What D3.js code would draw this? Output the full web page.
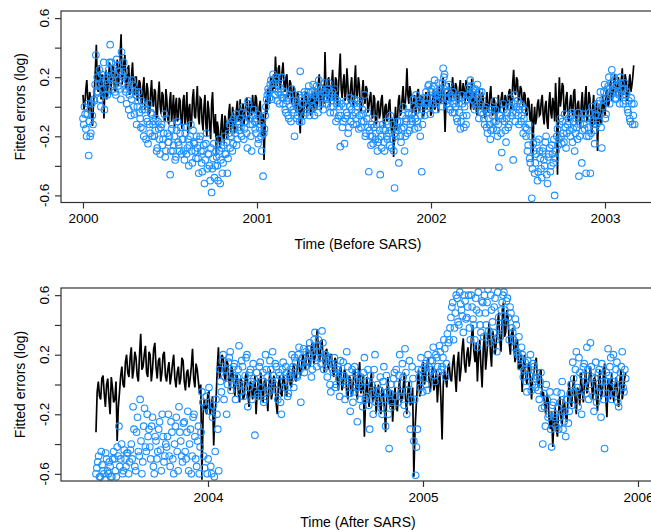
<!DOCTYPE html>
<html>
<head>
<meta charset="utf-8">
<script src="https://cdn.jsdelivr.net/npm/d3@7/dist/d3.min.js"></script>
<style>
  body { margin: 0; background: #fff; }
  svg text { font-family: "Liberation Sans", Arial, Helvetica, sans-serif; fill: #000; }
</style>
</head>
<body>
<svg id="chart" width="651" height="531"></svg>
<script>
// Before SARS. Fitted curve: "A" values every 4 days from 2000.0,
// "B" values sit halfway between (2 days later).
var topStart = 2000.0;
var topLineA = [
  0.08, 0.02, 0.18, -0.04, 0.06, -0.13, 0.12, 0.42, 0.1, 0.2,
  0.22, -0.08, 0.25, 0.12, 0.3, 0.18, 0.26, 0.1, 0.32, 0.2,
  0.49, 0.22, 0.35, 0.15, 0.28, 0.12, 0.3, 0.08, 0.2, 0.1,
  0.16, 0.02, 0.2, 0.05, 0.12, -0.04, 0.18, 0.0, 0.1, -0.06,
  0.17, -0.05, 0.08, -0.1, 0.05, -0.12, 0.1, -0.02, -0.14, 0.06,
  -0.08, 0.04, -0.15, 0.08, -0.05, -0.18, 0.02, -0.1, 0.12, -0.08,
  0.14, -0.12, 0.05, -0.16, 0.08, -0.2, -0.02, -0.22, 0.1, -0.18,
  -0.33, -0.15, -0.28, -0.05, -0.25, -0.1, -0.2, 0.02, -0.15, -0.05,
  -0.12, 0.04, -0.08, -0.16, 0.02, -0.06, 0.06, -0.1, 0.0, 0.08,
  -0.04, 0.06, -0.12, 0.04, -0.2, -0.36, 0.05, 0.12, 0.02, 0.18,
  0.22, 0.34, 0.14, 0.28, 0.18, 0.3, 0.1, 0.22, 0.08, 0.16,
  0.05, 0.12, -0.04, 0.08, -0.18, 0.06, -0.02, 0.1, 0.0, 0.04,
  0.06, -0.04, 0.12, 0.02, 0.22, -0.02, 0.15, 0.37, 0.05, 0.2,
  0.08, 0.25, 0.04, 0.18, 0.1, 0.36, 0.06, 0.22, 0.1, 0.15,
  0.05, 0.2, 0.0, 0.28, 0.08, 0.15, -0.04, 0.18, 0.02, 0.12,
  0.0, 0.1, -0.08, 0.06, -0.12, 0.04, -0.05, 0.08, -0.14, 0.02,
  -0.06, 0.05, -0.18, -0.34, 0.0, -0.1, 0.08, -0.04, 0.14, 0.0,
  0.26, 0.02, 0.1, -0.04, 0.08, -0.02, 0.12, 0.0, 0.06, -0.05,
  0.1, 0.02, 0.08, -0.04, 0.12, 0.0, 0.06, 0.14, 0.02, 0.2,
  -0.17, 0.1, 0.16, 0.04, 0.2, 0.08, 0.14, 0.02, 0.18, 0.06,
  0.12, 0.18, 0.04, 0.1, 0.19, -0.02, 0.08, -0.06, 0.12, 0.0,
  0.06, -0.08, 0.1, -0.02, 0.14, -0.06, 0.04, -0.1, 0.08, 0.0,
  0.1, -0.04, 0.06, 0.02, 0.12, 0.0, 0.25, 0.08, 0.18, 0.05,
  0.12, 0.0, 0.08, -0.06, 0.04, -0.1, -0.37, 0.0, -0.08, 0.05,
  -0.05, 0.08, -0.12, 0.04, -0.15, 0.1, -0.08, 0.02, 0.16, -0.46,
  0.2, 0.06, 0.14, -0.04, 0.1, -0.1, 0.08, -0.06, 0.12, -0.12,
  0.04, -0.15, 0.1, -0.08, 0.14, -0.04, 0.06, -0.18, 0.08, -0.1,
  -0.3, 0.02, -0.12, 0.08, -0.06, 0.12, 0.02, 0.18, 0.06, 0.22,
  0.1, 0.2, 0.04, 0.26, 0.12, 0.18, 0.06, 0.22, 0.14, 0.28
];
var topLineB = [
  -0.02, 0.12, 0.05, 0.1, -0.08, 0.02, 0.25, 0.15, 0.28, 0.05,
  0.1, 0.15, 0.05, 0.22, 0.08, 0.28, 0.12, 0.24, 0.14, 0.36,
  0.15, 0.3, 0.12, 0.26, 0.08, 0.22, 0.14, 0.2, 0.04, 0.18,
  0.04, 0.14, -0.02, 0.16, -0.05, 0.1, 0.02, 0.12, -0.08, 0.08,
  0.0, 0.1, -0.06, 0.12, -0.08, 0.04, -0.1, 0.08, 0.0, -0.1,
  0.06, -0.1, 0.04, -0.12, 0.1, -0.02, -0.15, 0.06, -0.06, 0.04,
  -0.06, 0.06, -0.1, 0.0, -0.12, 0.04, -0.15, 0.02, -0.1, -0.05,
  -0.1, -0.24, -0.12, -0.2, -0.06, -0.22, -0.04, -0.16, 0.0, -0.18,
  -0.02, -0.1, 0.05, -0.04, -0.12, 0.04, -0.08, 0.04, -0.06, -0.02,
  0.08, -0.06, 0.0, -0.1, -0.05, -0.15, -0.05, 0.06, 0.2, 0.1,
  0.12, 0.2, 0.26, 0.12, 0.24, 0.15, 0.2, 0.06, 0.18, 0.02,
  0.14, -0.02, 0.1, -0.06, 0.02, -0.08, 0.08, -0.04, 0.08, -0.06,
  0.1, 0.06, -0.02, 0.16, 0.04, 0.1, 0.02, 0.12, 0.18, 0.0,
  0.16, 0.06, 0.2, 0.0, 0.24, 0.12, 0.16, 0.04, 0.26, 0.02,
  0.14, 0.04, 0.16, 0.06, 0.2, 0.0, 0.1, 0.06, 0.14, -0.04,
  0.06, -0.04, 0.08, -0.1, 0.02, -0.08, 0.05, -0.06, 0.0, -0.1,
  0.02, -0.1, -0.08, -0.12, -0.16, 0.04, -0.06, 0.06, -0.02, 0.1,
  0.08, 0.14, -0.02, 0.06, -0.06, 0.1, -0.04, 0.08, -0.06, 0.04,
  -0.02, 0.1, -0.06, 0.06, -0.02, 0.1, -0.04, 0.04, 0.12, 0.04,
  0.02, 0.04, 0.08, 0.14, 0.06, 0.16, 0.04, 0.12, 0.08, 0.16,
  0.02, 0.08, 0.14, -0.02, 0.06, 0.1, -0.04, 0.06, -0.02, 0.1,
  -0.04, 0.04, -0.04, 0.08, 0.0, 0.06, -0.06, 0.02, -0.04, 0.06,
  0.0, 0.08, -0.02, 0.1, -0.02, 0.16, 0.1, 0.2, 0.04, 0.14,
  0.04, 0.1, -0.04, 0.06, -0.08, 0.02, -0.1, -0.12, 0.02, -0.06,
  0.04, -0.06, 0.0, -0.1, 0.02, -0.04, 0.06, -0.1, 0.0, 0.02,
  0.0, 0.16, -0.06, 0.06, -0.08, 0.02, -0.02, 0.1, -0.04, 0.02,
  -0.06, 0.02, -0.04, 0.06, -0.1, 0.1, -0.08, 0.0, -0.12, 0.04,
  -0.08, -0.1, 0.04, -0.04, 0.1, 0.0, 0.14, 0.04, 0.16, 0.08,
  0.16, 0.06, 0.18, 0.08, 0.22, 0.04, 0.16, 0.1, 0.2
];

// Before SARS. Observed errors: "A" every 3 days from 2000.0, "B" 1.5 days later.
var topPointsA = [
  -0.08, 0.0, -0.15, -0.05, -0.33, -0.2, 0.02, -0.12, 0.04, 0.35,
  0.2, 0.15, 0.05, 0.22, 0.12, -0.02, 0.18, 0.08, 0.25, 0.42,
  0.3, 0.15, 0.22, 0.08, 0.28, 0.18, 0.12, 0.37, 0.2, 0.24,
  0.1, 0.18, -0.02, 0.12, 0.05, 0.15, -0.05, 0.08, 0.0, 0.1,
  -0.08, 0.04, -0.15, -0.02, -0.22, -0.1, 0.02, -0.18, -0.05, -0.12,
  -0.2, -0.08, -0.28, -0.15, -0.32, -0.12, -0.22, -0.05, -0.3, -0.18,
  -0.24, -0.46, -0.15, -0.3, -0.2, -0.34, -0.1, -0.26, -0.18, -0.32,
  -0.22, -0.36, -0.14, -0.28, -0.4, -0.2, -0.3, -0.16, -0.25, -0.35,
  -0.28, -0.45, -0.2, -0.38, -0.3, -0.52, -0.25, -0.42, -0.32, -0.5,
  -0.58, -0.35, -0.48, -0.3, -0.4, -0.22, -0.52, -0.28, -0.38, -0.2,
  -0.32, -0.45, -0.18, -0.28, -0.1, -0.25, -0.15, -0.05, -0.22, -0.12,
  -0.08, -0.2, 0.0, -0.15, -0.05, -0.28, 0.02, -0.12, -0.3, -0.06,
  -0.1, -0.18, -0.05, -0.22, -0.12, -0.3, -0.47, -0.15, 0.0, 0.08,
  0.1, 0.15, 0.05, 0.22, 0.12, 0.18, 0.04, 0.14, 0.08, 0.2,
  0.02, 0.1, -0.04, 0.06, -0.08, 0.0, 0.12, -0.02, -0.2, 0.04,
  -0.06, 0.08, 0.24, -0.1, 0.02, 0.1, -0.04, 0.06, 0.14, -0.02,
  0.05, 0.15, -0.06, 0.1, 0.02, 0.18, 0.08, 0.12, -0.02, 0.16,
  0.1, 0.05, 0.16, -0.04, 0.08, 0.0, 0.12, -0.1, 0.04, -0.06,
  -0.27, 0.02, -0.1, -0.25, 0.04, -0.06, -0.14, 0.06, -0.02, -0.12,
  0.05, -0.08, 0.0, -0.15, 0.02, -0.1, -0.05, 0.08, -0.18, -0.04,
  -0.44, -0.2, -0.12, -0.25, -0.08, -0.18, -0.3, -0.22, -0.46, -0.28,
  -0.15, -0.3, -0.1, -0.22, -0.18, -0.06, -0.28, -0.12, -0.55, -0.2,
  -0.1, -0.38, -0.2, -0.15, 0.0, -0.3, -0.08, -0.18, -0.05, -0.12,
  -0.05, 0.05, -0.15, 0.08, -0.1, 0.02, -0.2, -0.44, 0.0, -0.06,
  0.1, 0.02, 0.15, -0.05, 0.12, 0.06, 0.18, -0.02, 0.08, 0.04,
  0.12, 0.0, 0.26, 0.22, 0.1, 0.05, 0.15, -0.02, 0.06, 0.1,
  -0.04, 0.04, -0.1, 0.02, -0.15, 0.08, -0.06, 0.0, -0.12, 0.05,
  0.13, 0.18, 0.05, 0.12, -0.02, 0.08, 0.15, -0.08, 0.02, 0.1,
  -0.05, -0.12, 0.0, -0.18, -0.08, -0.22, -0.02, -0.15, 0.04, -0.1,
  -0.2, -0.41, -0.06, -0.31, 0.02, -0.1, -0.24, -0.04, -0.12, 0.06,
  0.0, -0.36, 0.08, -0.04, 0.04, -0.12, 0.02, -0.06, -0.18, -0.02,
  -0.2, -0.3, -0.12, -0.38, -0.62, -0.25, -0.45, -0.32, -0.5, -0.22,
  -0.35, -0.48, -0.28, -0.4, -0.2, -0.52, -0.32, -0.44, -0.26, -0.38,
  -0.6, -0.3, -0.15, -0.22, -0.08, -0.25, -0.18, -0.05, -0.28, -0.12,
  -0.1, -0.2, -0.04, -0.15, -0.3, -0.08, -0.22, -0.47, -0.12, -0.38,
  -0.05, -0.15, -0.45, -0.08, -0.2, -0.45, 0.0, -0.12, -0.25, -0.05,
  0.02, -0.1, 0.1, -0.28, 0.05, 0.15, -0.05, 0.12, 0.2, 0.08,
  0.25, 0.1, 0.18, 0.05, 0.15, 0.08, 0.2, 0.12, 0.02, 0.16,
  0.08, -0.02, 0.04, -0.1, 0.02, -0.06, -0.12
];
var topPointsB = [
  -0.12, -0.05, -0.2, 0.02, -0.1, -0.18, -0.06, 0.05, 0.15, 0.1,
  0.1, 0.25, 0.0, 0.16, 0.3, 0.08, 0.2, 0.12, 0.3, 0.2,
  0.18, 0.26, 0.1, 0.32, 0.14, 0.24, 0.05, 0.22, 0.3, 0.12,
  0.02, 0.14, 0.08, -0.06, 0.18, 0.0, 0.1, -0.12, 0.04, -0.04,
  -0.14, -0.02, -0.2, 0.0, -0.08, -0.25, -0.12, -0.04, -0.2, -0.1,
  -0.16, -0.3, -0.1, -0.22, -0.14, -0.26, -0.18, -0.34, -0.08, -0.24,
  -0.2, -0.3, -0.12, -0.26, -0.36, -0.16, -0.24, -0.3, -0.14, -0.22,
  -0.3, -0.18, -0.32, -0.22, -0.26, -0.12, -0.38, -0.24, -0.3, -0.2,
  -0.35, -0.22, -0.3, -0.44, -0.26, -0.36, -0.18, -0.32, -0.4, -0.28,
  -0.42, -0.25, -0.4, -0.34, -0.5, -0.3, -0.36, -0.45, -0.26, -0.32,
  -0.24, -0.35, -0.12, -0.2, -0.3, -0.08, -0.18, -0.26, -0.1, -0.16,
  -0.14, -0.04, -0.22, -0.1, -0.18, 0.04, -0.08, -0.2, -0.12, -0.02,
  -0.15, -0.08, -0.25, -0.14, -0.2, -0.1, -0.18, -0.06, 0.05, 0.12,
  0.06, 0.18, 0.12, 0.16, 0.08, 0.2, 0.1, 0.02, 0.12, 0.06,
  0.06, -0.02, 0.04, -0.06, 0.08, -0.1, 0.04, -0.04, 0.02, -0.08,
  0.0, -0.1, 0.06, 0.02, -0.06, 0.08, 0.0, 0.1, -0.06, 0.04,
  0.1, 0.0, 0.08, 0.14, -0.04, 0.06, 0.12, 0.02, 0.1, 0.06,
  0.02, 0.12, 0.06, 0.0, 0.1, -0.04, 0.06, 0.02, -0.08, 0.0,
  -0.06, -0.14, 0.0, -0.08, -0.04, -0.18, 0.0, -0.1, -0.06, 0.02,
  -0.04, -0.12, 0.04, -0.06, -0.14, -0.02, -0.1, -0.2, -0.08, -0.14,
  -0.16, -0.26, -0.2, -0.14, -0.22, -0.12, -0.24, -0.16, -0.2, -0.12,
  -0.24, -0.16, -0.2, -0.12, -0.26, -0.16, -0.22, -0.3, -0.18, -0.14,
  -0.16, -0.1, -0.24, -0.06, -0.14, -0.2, -0.1, -0.04, -0.16, -0.08,
  -0.1, 0.0, -0.08, -0.02, -0.14, 0.04, -0.06, -0.12, 0.06, 0.02,
  0.06, 0.14, 0.0, 0.1, 0.02, 0.14, 0.08, 0.04, 0.16, 0.1,
  0.06, 0.16, 0.2, 0.14, 0.02, 0.1, 0.0, 0.08, -0.04, 0.02,
  0.0, -0.08, 0.06, -0.04, -0.1, 0.02, -0.14, 0.04, -0.06, 0.08,
  0.08, 0.14, 0.1, 0.04, 0.12, 0.0, 0.06, 0.1, -0.04, 0.04,
  -0.08, -0.02, -0.14, -0.04, -0.12, -0.16, -0.06, -0.1, -0.02, -0.16,
  -0.12, -0.06, -0.18, -0.08, -0.02, -0.16, -0.08, -0.14, 0.0, -0.06,
  -0.04, 0.02, -0.1, 0.0, -0.06, -0.02, -0.1, 0.0, -0.08, -0.14,
  -0.15, -0.26, -0.35, -0.2, -0.42, -0.3, -0.38, -0.24, -0.44, -0.3,
  -0.42, -0.3, -0.36, -0.24, -0.46, -0.34, -0.28, -0.4, -0.32, -0.22,
  -0.35, -0.2, -0.26, -0.12, -0.2, -0.1, -0.24, -0.14, -0.18, -0.08,
  -0.16, -0.06, -0.24, -0.1, -0.18, -0.14, -0.04, -0.2, -0.08, -0.16,
  -0.12, -0.08, -0.2, -0.14, -0.04, -0.18, -0.1, -0.16, -0.06, -0.12,
  -0.06, 0.04, -0.14, 0.0, 0.1, -0.08, 0.06, 0.14, 0.02, 0.16,
  0.12, 0.2, 0.06, 0.14, 0.1, 0.02, 0.16, 0.08, 0.12, 0.04,
  0.1, -0.04, -0.08, 0.06, -0.12, 0.02
];

// After SARS. Fitted curve: "A" every 4 days from mid 2003, "B" 2 days later.
var botStart = 2003.479;
var botLineA = [
  -0.32, 0.02, -0.1, 0.06, -0.15, 0.04, -0.2, -0.02, -0.1, -0.38,
  -0.05, 0.12, -0.02, 0.2, 0.05, 0.25, 0.1, 0.18, 0.02, 0.34,
  0.12, 0.26, 0.05, 0.2, 0.1, 0.28, 0.04, 0.18, 0.08, 0.22,
  0.02, 0.15, 0.06, 0.2, -0.02, 0.12, 0.04, 0.16, -0.04, 0.1,
  0.04, 0.24, -0.02, 0.1, -0.06, -0.64, -0.1, -0.2, -0.05, -0.15,
  -0.41, -0.1, 0.25, 0.1, 0.18, 0.02, 0.14, -0.04, 0.1, -0.08,
  0.06, -0.12, 0.02, -0.08, 0.08, -0.15, 0.0, -0.05, -0.2, 0.04,
  0.08, -0.12, 0.04, -0.18, 0.1, -0.05, 0.02, -0.2, 0.06, -0.08,
  0.04, -0.08, 0.1, -0.02, 0.14, 0.02, 0.18, 0.06, 0.2, 0.1,
  0.22, 0.12, 0.28, 0.18, 0.37, 0.15, 0.3, 0.08, 0.24, 0.1,
  0.2, 0.05, 0.16, -0.04, 0.12, 0.0, 0.08, -0.1, 0.04, -0.06,
  0.1, -0.1, 0.15, -0.02, -0.35, 0.05, -0.15, 0.08, -0.08, -0.2,
  0.0, -0.2, -0.05, -0.32, 0.05, -0.15, -0.25, -0.02, -0.18, 0.04,
  -0.1, 0.08, -0.2, 0.02, -0.12, -0.62, -0.15, 0.1, -0.05, 0.15,
  0.05, 0.18, -0.05, 0.12, 0.0, -0.12, 0.08, -0.37, 0.1, -0.02,
  0.14, 0.02, 0.2, -0.05, 0.22, 0.1, 0.31, 0.08, 0.25, 0.18,
  0.4, 0.15, 0.02, 0.3, -0.02, 0.35, 0.2, 0.42, 0.12, 0.3,
  0.28, 0.48, 0.22, 0.55, 0.35, 0.45, 0.2, 0.38, 0.15, 0.3,
  0.12, -0.05, 0.2, 0.0, 0.15, -0.1, 0.08, 0.18, -0.02, 0.1,
  -0.05, -0.2, -0.1, -0.3, -0.42, -0.15, -0.35, -0.08, -0.28, -0.12,
  -0.25, 0.02, -0.15, 0.06, -0.2, -0.05, 0.08, -0.12, 0.1, -0.02,
  0.12, -0.1, 0.05, -0.18, 0.1, -0.05, 0.14, -0.22, 0.02, 0.08,
  -0.12, 0.05, -0.15, 0.1, -0.05, 0.08
];
var botLineB = [
  -0.05, -0.08, 0.04, -0.06, 0.0, -0.1, 0.05, -0.12, 0.02, -0.15,
  0.06, 0.0, 0.15, 0.08, 0.18, 0.04, 0.22, 0.06, 0.2, 0.1,
  0.2, 0.08, 0.22, 0.02, 0.24, 0.12, 0.16, 0.02, 0.2, 0.06,
  0.1, 0.0, 0.14, 0.04, 0.08, 0.0, 0.18, 0.02, 0.08, -0.02,
  0.12, 0.04, 0.14, 0.02, 0.0, -0.2, -0.16, -0.06, -0.2, -0.08,
  -0.2, 0.1, 0.04, 0.2, 0.06, 0.16, 0.02, 0.12, 0.0, 0.06,
  -0.06, 0.04, -0.1, 0.06, -0.06, 0.02, -0.1, 0.06, -0.04, -0.1,
  -0.04, 0.02, -0.08, 0.02, -0.1, 0.06, -0.12, 0.0, -0.06, 0.06,
  -0.06, 0.06, 0.0, 0.1, 0.04, 0.12, 0.08, 0.16, 0.12, 0.26,
  0.14, 0.26, 0.14, 0.3, 0.2, 0.28, 0.16, 0.22, 0.12, 0.2,
  0.1, 0.18, 0.02, 0.1, -0.04, 0.1, -0.06, 0.06, -0.08, 0.08,
  -0.04, 0.08, -0.06, 0.06, -0.1, -0.06, 0.02, -0.12, 0.0, -0.06,
  -0.12, -0.02, -0.16, -0.06, -0.1, -0.04, -0.1, -0.14, -0.04, -0.12,
  -0.02, -0.1, -0.04, -0.14, -0.02, -0.3, 0.0, -0.08, 0.06, 0.0,
  0.12, 0.02, 0.06, -0.04, 0.1, 0.02, -0.1, 0.0, 0.04, 0.12,
  0.04, 0.14, 0.06, 0.14, 0.02, 0.24, 0.14, 0.2, 0.12, 0.32,
  0.22, 0.28, 0.2, 0.12, 0.24, 0.1, 0.32, 0.22, 0.36, 0.2,
  0.4, 0.3, 0.42, 0.32, 0.5, 0.28, 0.34, 0.24, 0.3, 0.1,
  0.2, 0.1, 0.06, 0.12, 0.02, 0.06, 0.14, 0.02, 0.08, -0.08,
  -0.12, -0.06, -0.24, -0.18, -0.25, -0.3, -0.18, -0.22, -0.1, -0.22,
  -0.08, -0.12, -0.02, -0.1, -0.02, -0.14, -0.04, 0.02, -0.06, 0.06,
  0.0, 0.04, -0.08, 0.0, -0.1, 0.06, -0.08, 0.04, -0.1, -0.06,
  0.0, -0.08, 0.02, -0.1, 0.04
];

// After SARS. Observed errors: "A" every 3 days from mid 2003, "B" 1.5 days later.
var botPointsA = [
  -0.6, -0.52, -0.62, -0.45, -0.58, -0.64, -0.5, -0.6, -0.55, -0.62,
  -0.45, -0.58, -0.42, -0.28, -0.5, -0.6, -0.44, -0.55, -0.46, -0.52,
  -0.4, -0.15, -0.55, -0.32, -0.45, -0.1, -0.6, -0.28, -0.42, -0.2,
  -0.3, -0.5, -0.22, -0.6, -0.38, -0.45, -0.25, -0.58, -0.35, -0.48,
  -0.42, -0.2, -0.55, -0.32, -0.6, -0.28, -0.45, -0.15, -0.38, -0.52,
  -0.25, -0.5, -0.18, -0.4, -0.6, -0.22, -0.35, -0.55, -0.28, -0.42,
  -0.05, -0.48, -0.15, -0.6, -0.02, -0.55, -0.22, -0.62, -0.1, -0.3,
  0.1, -0.05, 0.2, 0.05, -0.2, 0.15, 0.22, 0.0, 0.12, -0.1,
  0.05, 0.26, -0.05, 0.12, 0.0, 0.18, -0.15, 0.08, 0.02, 0.14,
  -0.34, 0.08, -0.08, 0.15, 0.02, -0.12, 0.2, 0.05, -0.05, 0.1,
  0.22, 0.0, 0.12, -0.1, 0.06, -0.2, 0.15, -0.02, 0.08, -0.06,
  0.1, 0.2, -0.02, 0.15, 0.05, 0.25, -0.12, 0.18, 0.08, 0.22,
  0.15, 0.28, 0.05, 0.22, 0.35, 0.12, 0.3, 0.18, 0.36, 0.1,
  0.2, 0.05, 0.15, -0.05, 0.1, 0.18, 0.0, 0.12, -0.08, 0.06,
  0.15, -0.1, 0.22, 0.02, -0.18, 0.1, -0.05, 0.08, -0.25, 0.0,
  0.05, -0.15, 0.18, -0.08, 0.1, -0.3, 0.0, -0.2, 0.2, -0.05,
  -0.1, 0.05, -0.2, 0.12, -0.28, -0.05, -0.43, 0.0, -0.15, 0.08,
  0.1, -0.12, 0.2, -0.05, 0.05, 0.24, -0.2, 0.0, -0.3, 0.12,
  -0.38, -0.61, -0.3, 0.05, 0.18, -0.05, 0.12, 0.0, 0.2, 0.08,
  0.1, 0.25, 0.02, 0.18, 0.08, 0.22, 0.12, 0.3, 0.05, 0.34,
  0.3, 0.45, 0.55, 0.38, 0.6, 0.42, 0.62, 0.5, 0.35, 0.56,
  0.45, 0.6, 0.3, 0.52, 0.4, 0.58, 0.25, 0.48, 0.35, 0.55,
  0.6, 0.4, 0.64, 0.28, 0.5, 0.35, 0.58, 0.22, 0.45, 0.32,
  0.55, 0.62, 0.42, 0.58, 0.3, 0.48, 0.35, 0.25, 0.4, 0.2,
  0.18, 0.25, 0.05, 0.15, -0.05, 0.1, 0.2, 0.0, 0.12, -0.02,
  0.05, -0.1, 0.08, -0.4, -0.15, 0.0, -0.22, -0.05, -0.42, -0.12,
  -0.2, -0.05, -0.3, -0.12, 0.02, -0.25, -0.35, -0.1, -0.18, 0.0,
  0.15, -0.05, 0.22, -0.15, 0.08, -0.2, 0.12, 0.02, 0.25, -0.1,
  0.28, 0.05, -0.18, 0.15, -0.05, 0.1, -0.22, 0.02, -0.43, 0.08,
  0.24, 0.12, -0.1, 0.2, 0.0, 0.15, -0.15, 0.08, 0.22, -0.05,
  0.04
];
var botPointsB = [
  -0.56, -0.48, -0.62, -0.54, -0.6, -0.46, -0.58, -0.52, -0.62, -0.5,
  -0.5, -0.62, -0.48, -0.55, -0.4, -0.58, -0.5, -0.46, -0.6, -0.44,
  -0.5, -0.3, -0.58, -0.22, -0.48, -0.38, -0.52, -0.16, -0.45, -0.35,
  -0.42, -0.28, -0.55, -0.35, -0.5, -0.3, -0.44, -0.2, -0.52, -0.4,
  -0.35, -0.48, -0.25, -0.5, -0.4, -0.22, -0.58, -0.32, -0.48, -0.26,
  -0.45, -0.32, -0.58, -0.3, -0.48, -0.2, -0.5, -0.38, -0.6, -0.32,
  -0.12, -0.56, -0.08, -0.5, -0.18, -0.6, -0.14, -0.45, -0.2, -0.58,
  0.02, 0.16, -0.1, 0.1, 0.0, 0.18, -0.04, 0.06, 0.14, 0.02,
  0.1, 0.0, 0.16, -0.08, 0.06, 0.2, -0.02, 0.1, -0.1, 0.04,
  0.0, -0.06, 0.12, -0.02, 0.08, -0.1, 0.1, -0.04, 0.16, 0.02,
  0.06, 0.14, -0.04, 0.08, -0.12, 0.1, 0.02, 0.12, -0.08, 0.06,
  0.04, 0.12, 0.18, 0.06, 0.2, 0.1, 0.14, 0.24, 0.12, 0.16,
  0.2, 0.24, 0.1, 0.3, 0.18, 0.26, 0.22, 0.14, 0.28, 0.2,
  0.12, 0.18, 0.0, 0.14, 0.08, -0.02, 0.1, 0.04, 0.16, 0.02,
  0.06, 0.0, 0.12, -0.06, 0.04, -0.12, 0.12, -0.02, 0.06, -0.1,
  -0.02, 0.08, -0.1, 0.02, -0.14, 0.06, -0.06, 0.1, -0.12, 0.0,
  -0.04, -0.16, 0.02, -0.1, 0.06, -0.2, -0.06, -0.12, 0.04, -0.08,
  0.0, 0.06, -0.08, 0.14, -0.14, 0.08, -0.04, 0.16, -0.1, 0.04,
  -0.1, -0.42, 0.1, -0.02, 0.1, 0.04, 0.14, -0.04, 0.12, 0.16,
  0.16, 0.06, 0.2, 0.12, 0.26, 0.1, 0.18, 0.24, 0.14, 0.28,
  0.38, 0.52, 0.3, 0.48, 0.58, 0.4, 0.54, 0.46, 0.6, 0.44,
  0.52, 0.38, 0.6, 0.44, 0.3, 0.5, 0.62, 0.4, 0.56, 0.32,
  0.48, 0.55, 0.36, 0.6, 0.42, 0.52, 0.3, 0.62, 0.38, 0.5,
  0.6, 0.5, 0.56, 0.45, 0.52, 0.38, 0.3, 0.44, 0.22, 0.32,
  0.12, 0.2, 0.1, 0.02, 0.16, 0.06, -0.04, 0.14, 0.04, 0.08,
  -0.04, 0.02, -0.16, -0.06, -0.28, -0.1, -0.2, -0.3, -0.14, -0.22,
  -0.28, -0.16, -0.22, -0.06, -0.3, -0.18, -0.1, -0.26, -0.06, -0.14,
  0.04, 0.1, -0.02, 0.18, -0.08, 0.06, 0.14, -0.06, 0.1, 0.0,
  0.12, -0.08, 0.04, -0.12, 0.08, -0.02, 0.14, -0.1, 0.02, -0.06,
  0.06, 0.18, 0.02, -0.06, 0.1, -0.12, 0.04, 0.12, -0.02, 0.1
];

var yTicks = [-0.6, -0.4, -0.2, 0, 0.2, 0.4, 0.6];
var yTickLabels = { '-0.6': '-0.6', '-0.2': '-0.2', '0.2': '0.2', '0.6': '0.6' };
var topYears = [2000, 2001, 2002, 2003];
var botYears = [2004, 2005, 2006];

var LINE_STEP = 4, POINT_STEP = 3; // days between "A" values
var POINT_COLOR = '#1E90FF';

// interleave A (on the step) and B (half a step later) into one time series
function toSeries(a, b, start, stepDays) {
  var out = [];
  a.forEach(function (v, i) {
    out.push({ t: start + i * stepDays / 365.25, v: v });
    if (i < b.length) out.push({ t: start + (i + 0.5) * stepDays / 365.25, v: b[i] });
  });
  return out;
}

function drawPanel(svg, p) {
  var x = d3.scaleLinear().domain(p.xDomain).range([p.left, p.right]);
  var y = d3.scaleLinear().domain([-0.648, 0.648]).range([p.bottom, p.top]);

  var clipId = 'clip-' + p.id;
  svg.append('clipPath').attr('id', clipId)
    .append('rect')
    .attr('x', p.left).attr('y', p.top)
    .attr('width', p.right - p.left).attr('height', p.bottom - p.top);

  var plot = svg.append('g').attr('clip-path', 'url(#' + clipId + ')');

  var line = d3.line()
    .x(function (d) { return x(d.t); })
    .y(function (d) { return y(d.v); });

  plot.append('path')
    .datum(toSeries(p.lineA, p.lineB, p.start, LINE_STEP))
    .attr('d', line)
    .attr('fill', 'none')
    .attr('stroke', '#000')
    .attr('stroke-width', 1.7);

  plot.append('g').selectAll('circle')
    .data(toSeries(p.pointsA, p.pointsB, p.start, POINT_STEP))
    .join('circle')
    .attr('cx', function (d) { return x(d.t); })
    .attr('cy', function (d) { return y(d.v); })
    .attr('r', 3.3)
    .attr('fill', 'none')
    .attr('stroke', POINT_COLOR)
    .attr('stroke-width', 1.1);

  // box
  svg.append('rect')
    .attr('x', p.left).attr('y', p.top)
    .attr('width', p.right - p.left).attr('height', p.bottom - p.top)
    .attr('fill', 'none').attr('stroke', '#333').attr('stroke-width', 1.2);

  // y axis: ticks every 0.2, labels on every other one (rotated, R style)
  var gy = svg.append('g').attr('transform', 'translate(' + p.left + ',0)')
    .call(d3.axisLeft(y).tickValues(yTicks).tickSize(6).tickFormat(function () { return ''; }));
  gy.select('.domain').remove();
  gy.selectAll('line').attr('stroke', '#333').attr('stroke-width', 1.2);

  svg.append('g').selectAll('text')
    .data(yTicks.filter(function (d) { return yTickLabels[String(d)]; }))
    .join('text')
    .attr('transform', function (d) { return 'translate(' + (p.left - 12) + ',' + y(d) + ') rotate(-90)'; })
    .attr('text-anchor', 'middle')
    .style('font-size', '13.5px')
    .text(function (d) { return yTickLabels[String(d)]; });

  // x axis
  var gx = svg.append('g').attr('transform', 'translate(0,' + p.bottom + ')')
    .call(d3.axisBottom(x).tickValues(p.years).tickSize(6).tickPadding(5).tickFormat(d3.format('d')));
  gx.select('.domain').remove();
  gx.selectAll('line').attr('stroke', '#333').attr('stroke-width', 1.2);
  gx.selectAll('text').style('font-size', '13.5px').attr('fill', '#000');

  svg.append('text')
    .attr('x', p.titleX).attr('y', p.bottom + 46)
    .attr('text-anchor', 'middle')
    .style('font-size', '14px')
    .text(p.title);

  svg.append('text')
    .attr('transform', 'translate(25,' + ((p.top + p.bottom) / 2) + ') rotate(-90)')
    .attr('text-anchor', 'middle')
    .style('font-size', '14px')
    .text('Fitted errors (log)');
}

var svg = d3.select('#chart');

drawPanel(svg, {
  id: 'before', left: 61, right: 655.5, top: 11, bottom: 202.5,
  xDomain: [1999.8736, 2003.2902],
  start: topStart, lineA: topLineA, lineB: topLineB,
  pointsA: topPointsA, pointsB: topPointsB,
  years: topYears, titleX: 358, title: 'Time (Before SARS)'
});

drawPanel(svg, {
  id: 'after', left: 61, right: 653, top: 288, bottom: 481,
  xDomain: [2003.3163, 2006.0698],
  start: botStart, lineA: botLineA, lineB: botLineB,
  pointsA: botPointsA, pointsB: botPointsB,
  years: botYears, titleX: 358, title: 'Time (After SARS)'
});
</script>
</body>
</html>
